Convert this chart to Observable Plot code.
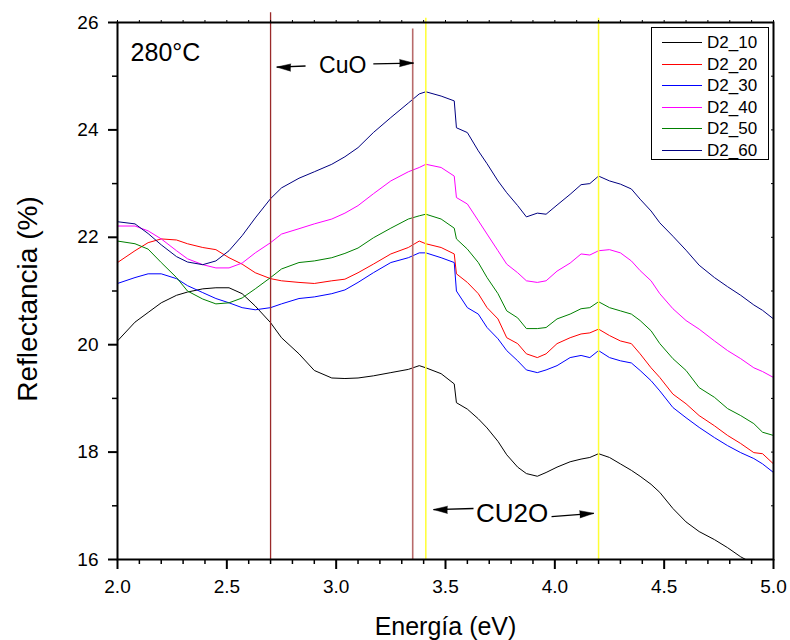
<!DOCTYPE html>
<html>
<head>
<meta charset="utf-8">
<script src="https://cdn.jsdelivr.net/npm/d3@7"></script>
<script src="https://cdn.jsdelivr.net/npm/@observablehq/plot@0.6"></script>
<style>
  html, body { margin: 0; padding: 0; background: #fff; }
  #chart { width: 790px; height: 640px; }
</style>
</head>
<body>
<div id="chart"></div>
<script>
// Reflectance spectra of the D2 films annealed at 280 °C
const energy = [2.00, 2.08, 2.14, 2.20, 2.27, 2.32, 2.39, 2.45, 2.51, 2.57, 2.63, 2.70, 2.75, 2.83, 2.90, 2.98, 3.04, 3.10, 3.17, 3.25, 3.33, 3.38, 3.41, 3.48, 3.54, 3.55, 3.60, 3.65, 3.69, 3.74, 3.78, 3.83, 3.87, 3.92, 3.96, 4.01, 4.07, 4.12, 4.16, 4.20, 4.25, 4.30, 4.35, 4.39, 4.44, 4.48, 4.54, 4.60, 4.66, 4.73, 4.79, 4.85, 4.91, 4.95, 5.00];

const d2_10 = [20.07, 20.42, 20.60, 20.78, 20.92, 20.98, 21.04, 21.06, 21.06, 20.95, 20.72, 20.41, 20.13, 19.83, 19.52, 19.38, 19.37, 19.38, 19.42, 19.48, 19.54, 19.61, 19.57, 19.46, 19.27, 18.92, 18.80, 18.62, 18.45, 18.20, 17.95, 17.72, 17.60, 17.55, 17.62, 17.72, 17.82, 17.87, 17.90, 17.97, 17.90, 17.78, 17.66, 17.55, 17.40, 17.25, 16.95, 16.70, 16.52, 16.37, 16.22, 16.05, 15.92, 15.85, 15.75];
const d2_20 = [21.53, 21.75, 21.90, 21.97, 21.95, 21.88, 21.81, 21.77, 21.62, 21.50, 21.34, 21.23, 21.19, 21.16, 21.14, 21.19, 21.22, 21.34, 21.50, 21.69, 21.81, 21.93, 21.88, 21.81, 21.69, 21.32, 21.16, 20.95, 20.69, 20.48, 20.13, 20.02, 19.83, 19.76, 19.83, 20.02, 20.13, 20.20, 20.22, 20.29, 20.17, 20.07, 20.02, 19.83, 19.57, 19.39, 19.08, 18.90, 18.68, 18.49, 18.31, 18.16, 17.99, 17.97, 17.78];
const d2_30 = [21.14, 21.25, 21.32, 21.32, 21.23, 21.10, 20.97, 20.86, 20.78, 20.69, 20.65, 20.69, 20.76, 20.86, 20.89, 20.95, 21.02, 21.16, 21.34, 21.53, 21.62, 21.71, 21.71, 21.62, 21.53, 21.00, 20.69, 20.57, 20.32, 20.11, 19.89, 19.70, 19.53, 19.48, 19.53, 19.61, 19.76, 19.80, 19.76, 19.89, 19.76, 19.70, 19.66, 19.52, 19.33, 19.14, 18.83, 18.64, 18.46, 18.27, 18.12, 17.99, 17.88, 17.78, 17.62];
const d2_40 = [22.21, 22.21, 22.12, 21.97, 21.75, 21.60, 21.49, 21.43, 21.43, 21.52, 21.71, 21.90, 22.06, 22.16, 22.25, 22.34, 22.45, 22.59, 22.81, 23.05, 23.22, 23.30, 23.36, 23.30, 23.14, 22.74, 22.62, 22.31, 22.06, 21.75, 21.50, 21.34, 21.19, 21.16, 21.19, 21.37, 21.52, 21.69, 21.67, 21.75, 21.77, 21.71, 21.56, 21.38, 21.19, 20.95, 20.67, 20.45, 20.29, 20.07, 19.89, 19.74, 19.57, 19.50, 19.39];
const d2_50 = [21.93, 21.88, 21.78, 21.53, 21.25, 21.00, 20.85, 20.76, 20.78, 20.87, 21.04, 21.25, 21.41, 21.53, 21.56, 21.62, 21.70, 21.80, 21.99, 22.17, 22.34, 22.40, 22.43, 22.34, 22.17, 21.97, 21.78, 21.53, 21.25, 20.95, 20.63, 20.50, 20.30, 20.30, 20.32, 20.48, 20.57, 20.67, 20.69, 20.80, 20.69, 20.63, 20.57, 20.45, 20.26, 20.02, 19.74, 19.52, 19.20, 19.02, 18.81, 18.68, 18.53, 18.37, 18.31];
const d2_60 = [22.29, 22.25, 22.07, 21.86, 21.64, 21.54, 21.49, 21.56, 21.75, 22.03, 22.36, 22.72, 22.92, 23.10, 23.22, 23.36, 23.50, 23.67, 23.95, 24.23, 24.50, 24.67, 24.71, 24.63, 24.54, 24.04, 23.95, 23.61, 23.37, 23.05, 22.83, 22.59, 22.38, 22.45, 22.43, 22.60, 22.80, 22.98, 23.00, 23.14, 23.05, 22.99, 22.90, 22.71, 22.49, 22.27, 22.02, 21.76, 21.48, 21.25, 21.08, 20.92, 20.74, 20.64, 20.48];

const seriesNames = ["D2_10", "D2_20", "D2_30", "D2_40", "D2_50", "D2_60"];
const seriesValues = [d2_10, d2_20, d2_30, d2_40, d2_50, d2_60];
const seriesColors = ["#000000", "#ff0000", "#0000ff", "#ff00ff", "#008000", "#000080"];

// Band-edge markers (eV)
const cuoEdges = [2.70, 3.35];
const cu2oEdges = [3.41, 4.20];

// Axis ticks
const xMajor = [2.0, 2.5, 3.0, 3.5, 4.0, 4.5, 5.0];
const xAll = d3.range(0, 31).map(i => 2 + i / 10);
const xMinor = xAll.filter(v => !xMajor.some(m => Math.abs(m - v) < 1e-9));
const yMajor = [16, 18, 20, 22, 24, 26];
const yMinor = [17, 19, 21, 23, 25];

const rows = seriesNames.flatMap((name, s) =>
  energy.map((e, i) => ({series: name, energy: e, refl: seriesValues[s][i]}))
);

const font = "'Liberation Sans', Arial, Helvetica, sans-serif";

const chart = Plot.plot({
  width: 790,
  height: 640,
  marginLeft: 117,
  marginRight: 17,
  marginTop: 22,
  marginBottom: 81,
  style: {fontFamily: font, background: "white", color: "black", overflow: "visible"},
  x: {domain: [2, 5]},
  y: {domain: [16, 26]},
  color: {domain: seriesNames, range: seriesColors},
  marks: [
    Plot.line(rows, {x: "energy", y: "refl", z: "series", stroke: "series", strokeWidth: 1, clip: true}),

    // CuO and Cu2O edge lines
    Plot.ruleX([cuoEdges[0]], {y1: 16, y2: 26.18, stroke: "#9a2a2a", strokeWidth: 1.3}),
    Plot.ruleX([cuoEdges[1]], {y1: 16, y2: 25.88, stroke: "#b86a6a", strokeWidth: 1.6}),
    Plot.ruleX(cu2oEdges, {y1: 16, y2: 26.08, stroke: "#ffff33", strokeWidth: 1.5}),

    // Labels and arrows
    Plot.text(["280°C"], {x: 2.06, y: 25.43, text: d => d, textAnchor: "start", fontSize: 25}),
    Plot.text(["CuO"], {x: 3.03, y: 25.19, text: d => d, fontSize: 23}),
    Plot.text(["CU2O"], {x: 3.805, y: 16.86, text: d => d, fontSize: 26}),
    Plot.link([
      {x1: 2.86, y1: 25.19, x2: 2.728, y2: 25.17},
      {x1: 3.17, y1: 25.23, x2: 3.354, y2: 25.245},
      {x1: 3.628, y1: 16.95, x2: 3.445, y2: 16.93},
      {x1: 3.985, y1: 16.80, x2: 4.178, y2: 16.86}
    ], {x1: "x1", y1: "y1", x2: "x2", y2: "y2", stroke: "black", strokeWidth: 1.3}),
    Plot.vector([
      {x: 2.728, y: 25.17, a: -88},
      {x: 3.354, y: 25.245, a: 90},
      {x: 3.445, y: 16.93, a: -89},
      {x: 4.178, y: 16.86, a: 86}
    ], {x: "x", y: "y", rotate: "a", shape: "spike", anchor: "end", length: 14, r: 3.6, fill: "black", stroke: "black", strokeWidth: 0.5}),

    // Axes
    Plot.axisX({ticks: xMajor, tickSize: 10, tickPadding: 10, fontSize: 19, strokeWidth: 2, tickFormat: d3.format(".1f"), label: null}),
    Plot.axisX({ticks: xMinor, tickSize: 5, strokeWidth: 1.5, tickFormat: () => "", label: null}),
    Plot.axisX({anchor: "top", ticks: xAll, tickSize: 3, strokeWidth: 1, tickFormat: () => "", label: null}),
    Plot.axisY({ticks: yMajor, tickSize: 9, tickPadding: 10, fontSize: 19, strokeWidth: 2, label: null}),
    Plot.axisY({ticks: yMinor, tickSize: 5, strokeWidth: 1.5, tickFormat: () => "", label: null}),
    Plot.axisY({anchor: "right", ticks: d3.range(16, 27), tickSize: 3, dx: -3, strokeWidth: 1, tickFormat: () => "", label: null}),
    Plot.frame({stroke: "black", strokeWidth: 2}),

    // Axis titles
    Plot.text(["Energía (eV)"], {frameAnchor: "bottom", dy: 67, lineAnchor: "middle", textAnchor: "middle", text: d => d, fontSize: 25}),
    Plot.text(["Reflectancia (%)"], {frameAnchor: "left", dx: -89, dy: 8, rotate: -90, textAnchor: "middle", lineAnchor: "middle", text: d => d, fontSize: 28})
  ]
});

// Legend box in the upper right corner of the plot area
const svg = d3.select(chart);
const legend = svg.append("g")
  .attr("font-family", font)
  .attr("font-size", 17)
  .attr("text-anchor", "start");
legend.append("rect")
  .attr("x", 651.5).attr("y", 27.5).attr("width", 117).attr("height", 132)
  .attr("fill", "white").attr("stroke", "black").attr("stroke-width", 1);
seriesNames.forEach((name, i) => {
  const cy = Math.round(42 + i * 21.6) + 0.5;
  legend.append("line")
    .attr("x1", 662).attr("x2", 702).attr("y1", cy).attr("y2", cy)
    .attr("stroke", seriesColors[i]).attr("stroke-width", 1);
  legend.append("text")
    .attr("x", 707).attr("y", cy).attr("dy", "0.35em")
    .attr("text-anchor", "start")
    .attr("fill", "black").text(name);
});

document.getElementById("chart").appendChild(chart);
</script>
</body>
</html>
